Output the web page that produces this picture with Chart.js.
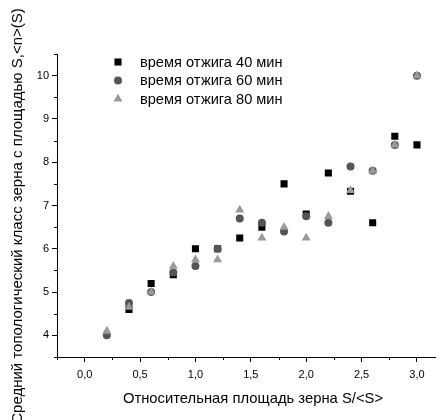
<!DOCTYPE html>
<html>
<head>
<meta charset="utf-8">
<script src="https://cdn.jsdelivr.net/npm/chart.js@4"></script>
<style>
  html, body { margin: 0; padding: 0; background: #fff; overflow: hidden; }
  canvas { display: block; }
</style>
</head>
<body>
<canvas id="c" width="441" height="420"></canvas>
<script>
// Series: mean topological class <n>(S) versus relative grain area S/<S>
const seriesLabels = ['время отжига 40 мин', 'время отжига 60 мин', 'время отжига 80 мин'];

const area40  = [0.4, 0.6, 0.8, 1.0, 1.2, 1.4, 1.6, 1.8, 2.0, 2.2, 2.4, 2.6, 2.8, 3.0];
const class40 = [4.6, 5.2, 5.4, 6.0, 6.0, 6.25, 6.5, 7.5, 6.8, 7.75, 7.33, 6.6, 8.6, 8.4];

const area60  = [0.2, 0.4, 0.6, 0.8, 1.0, 1.2, 1.4, 1.6, 1.8, 2.0, 2.2, 2.4, 2.6, 2.8, 3.0];
const class60 = [4.0, 4.75, 5.0, 5.45, 5.6, 6.0, 6.7, 6.6, 6.4, 6.75, 6.6, 7.9, 7.8, 8.4, 10.0];

const area80  = [0.2, 0.4, 0.6, 0.8, 1.0, 1.2, 1.4, 1.6, 1.8, 2.0, 2.2, 2.4, 2.6, 2.8, 3.0];
const class80 = [4.1, 4.65, 5.0, 5.6, 5.75, 5.75, 6.9, 6.25, 6.5, 6.25, 6.75, 7.35, 7.8, 8.4, 10.0];

// Axis ticks
const xMajorTicks = [0, 0.5, 1, 1.5, 2, 2.5, 3];
const xTickLabels = ['0,0', '0,5', '1,0', '1,5', '2,0', '2,5', '3,0'];
const xMinorTicks = [-0.25, 0.25, 0.75, 1.25, 1.75, 2.25, 2.75];
const yMajorTicks = [4, 5, 6, 7, 8, 9, 10];
const yTickLabels = ['4', '5', '6', '7', '8', '9', '10'];
const yMinorTicks = [3.5, 4.5, 5.5, 6.5, 7.5, 8.5, 9.5, 10.5];

const xTitle = 'Относительная площадь зерна S/<S>';
const yTitle = 'Средний топологический класс зерна с площадью S,<n>(S)';

const toPoints = (xs, ys) => xs.map((x, i) => ({ x: x, y: ys[i] }));

const FONT = 'Liberation Sans, Arial, sans-serif';

// Short outward minor ticks along both axes
const minorTicks = {
  id: 'minorTicks',
  afterDraw(chart) {
    const ctx = chart.ctx;
    const xs = chart.scales.x, ys = chart.scales.y;
    const area = chart.chartArea;
    ctx.save();
    ctx.strokeStyle = '#000';
    ctx.lineWidth = 1;
    ctx.beginPath();
    xMinorTicks.forEach(v => {
      const px = Math.round(xs.getPixelForValue(v)) + 0.5;
      ctx.moveTo(px, area.bottom);
      ctx.lineTo(px, area.bottom + 3);
    });
    yMinorTicks.forEach(v => {
      const py = Math.round(ys.getPixelForValue(v)) + 0.5;
      ctx.moveTo(area.left, py);
      ctx.lineTo(area.left - 3, py);
    });
    ctx.stroke();
    ctx.restore();
  }
};

// Axis titles: horizontal one under the tick labels, vertical one rotated at the left edge
const axisTitles = {
  id: 'axisTitles',
  afterDraw(chart) {
    const ctx = chart.ctx;
    ctx.save();
    ctx.fillStyle = '#000';
    ctx.textAlign = 'center';
    ctx.textBaseline = 'middle';
    ctx.font = '14.8px ' + FONT;
    ctx.fillText(xTitle, 253, 399);
    ctx.font = '15px ' + FONT;
    ctx.translate(18, 216);
    ctx.rotate(-Math.PI / 2);
    ctx.fillText(yTitle, 0, 0);
    ctx.restore();
  }
};

// Legend inside the plot area, top-left
const innerLegend = {
  id: 'innerLegend',
  afterDraw(chart) {
    const ctx = chart.ctx;
    ctx.save();
    ctx.font = '14.6px ' + FONT;
    ctx.textBaseline = 'middle';
    ctx.textAlign = 'left';
    chart.data.datasets.forEach((ds, row) => {
      const cy = 62 + row * 18.5;
      ctx.fillStyle = ds.backgroundColor;
      Chart.helpers.drawPoint(ctx, {
        pointStyle: ds.pointStyle, radius: ds.pointRadius, rotation: 0, borderWidth: 0
      }, 118, cy);
      ctx.fillStyle = '#000';
      ctx.fillText(ds.label, 140, cy + 0.5);
    });
    ctx.restore();
  }
};

new Chart(document.getElementById('c'), {
  type: 'scatter',
  data: {
    datasets: [
      {
        label: seriesLabels[0], data: toPoints(area40, class40),
        pointStyle: 'rect', pointRadius: 5, pointHoverRadius: 5,
        backgroundColor: '#000000', borderWidth: 0, order: 3
      },
      {
        label: seriesLabels[1], data: toPoints(area60, class60),
        pointStyle: 'circle', pointRadius: 4, pointHoverRadius: 4,
        backgroundColor: '#555555', borderWidth: 0, order: 2
      },
      {
        label: seriesLabels[2], data: toPoints(area80, class80),
        pointStyle: 'triangle', pointRadius: 5.2, pointHoverRadius: 5.2,
        backgroundColor: '#9a9a9a', borderWidth: 0, order: 1
      }
    ]
  },
  options: {
    responsive: false,
    devicePixelRatio: 1,
    animation: false,
    layout: { padding: { top: 54, right: 0, left: 0, bottom: 0 } },
    plugins: { legend: { display: false }, tooltip: { enabled: false } },
    scales: {
      x: {
        type: 'linear', min: -0.25, max: 3.17,
        afterBuildTicks: s => { s.ticks = xMajorTicks.map(v => ({ value: v })); },
        afterFit: s => { s.height = 63; },
        ticks: {
          callback: v => xTickLabels[xMajorTicks.indexOf(v)],
          font: { family: FONT, size: 11 }, color: '#000', padding: 6, maxRotation: 0
        },
        grid: { drawOnChartArea: false, drawTicks: true, tickLength: 5, tickColor: '#000', tickWidth: 1 },
        border: { display: true, color: '#000', width: 1 },
        title: { display: false }
      },
      y: {
        type: 'linear', min: 3.5, max: 10.5,
        afterBuildTicks: s => { s.ticks = yMajorTicks.map(v => ({ value: v })); },
        afterFit: s => { s.width = 57; },
        ticks: {
          callback: v => yTickLabels[yMajorTicks.indexOf(v)],
          font: { family: FONT, size: 11 }, color: '#000', padding: 3
        },
        grid: { drawOnChartArea: false, drawTicks: true, tickLength: 5, tickColor: '#000', tickWidth: 1 },
        border: { display: true, color: '#000', width: 1 },
        title: { display: false }
      }
    }
  },
  plugins: [minorTicks, axisTitles, innerLegend]
});
</script>
</body>
</html>
